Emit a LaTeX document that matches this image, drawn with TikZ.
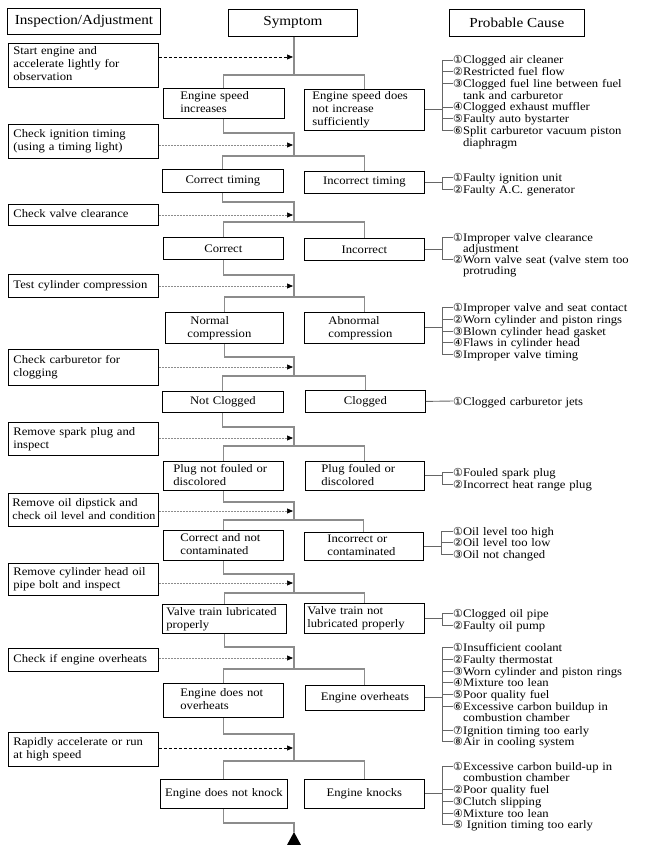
\documentclass[tikz,border=0pt]{standalone}
\usepackage{fontspec}
\setmainfont{Liberation Serif}[FakeStretch=1.1]
\newfontfamily\symf{DejaVu Sans}
\usetikzlibrary{arrows.meta}
\newcommand{\circnum}[1]{{\symf\fontsize{11}{11}\selectfont #1}}
\newcommand{\indtxt}[2]{\hspace*{#1}\begin{tabular}{@{}l@{}}#2\end{tabular}}
\tikzset{
  box/.style={draw=black, line width=0.8pt, inner xsep=0pt, inner ysep=1pt,
    anchor=north west, font=\fontsize{11.5}{13}\selectfont},
  lbox/.style={box, text width=150pt, align=left},
  sbox/.style={box, align=left},
  cbox/.style={box, align=center},
  hbox/.style={draw=black, line width=0.8pt, inner sep=0pt, anchor=north west,
    font=\fontsize{13.8}{15}\selectfont},
  flow/.style={draw=black!45, line width=1.1pt},
  brk/.style={draw=black!60, line width=0.9pt},
  darr/.style={draw=black, dash pattern=on 3pt off 2pt, line width=0.7pt,
    -{Triangle[length=6pt,width=5pt,color=black,fill=black]}},
  garr/.style={darr, draw=black!45, dash pattern=on 2pt off 1pt},
  cause/.style={anchor=base west, inner sep=0pt, text width=190pt, align=left,
    font=\fontsize{11.5}{11.75}\selectfont},
}
\begin{document}
\begin{tikzpicture}[x=1pt,y=-1pt]
\useasboundingbox (0,0) rectangle (646,845);

% headers
\node[hbox, minimum width=153pt, minimum height=26pt] (H1) at (7,8) {Inspection/Adjustment};
\node[hbox, minimum width=129pt, minimum height=27pt] (Sym) at (228,9) {Symptom};
\node[hbox, minimum width=135pt, minimum height=27pt] (H3) at (449,9) {Probable Cause};

% inspection boxes
\node[lbox, minimum height=44pt] (A1) at (8,43) {\indtxt{5pt}{Start engine and\\accelerate lightly for\\observation}};
\node[lbox, minimum height=34pt] (A2) at (8,124) {\indtxt{5pt}{Check ignition timing\\(using a timing light)}};
\node[lbox, minimum height=21pt] (A3) at (8,204) {\indtxt{5pt}{Check valve clearance}};
\node[lbox, minimum height=23pt] (A4) at (8,274) {\indtxt{5pt}{Test cylinder compression}};
\node[lbox, minimum height=36pt] (A5) at (8,349) {\indtxt{5pt}{Check carburetor for\\clogging}};
\node[lbox, minimum height=33pt] (A6) at (8,422) {\indtxt{5pt}{Remove spark plug and\\inspect}};
\node[lbox, minimum height=33pt] (A7) at (8,493) {\indtxt{4pt}{Remove oil dipstick and\\{\fontsize{11}{13}\selectfont check oil level and condition}}};
\node[lbox, minimum height=32pt] (A8) at (8,563) {\indtxt{5pt}{Remove cylinder head oil\\pipe bolt and inspect}};
\node[lbox, minimum height=23pt] (A9) at (8,648) {\indtxt{5pt}{Check if engine overheats}};
\node[lbox, minimum height=34pt] (A10) at (8,732) {\indtxt{5pt}{Rapidly accelerate or run\\at high speed}};

% symptom boxes
\node[sbox, text width=121pt, minimum height=30pt] (L1) at (163,88) {\indtxt{17pt}{Engine speed\\increases}};
\node[sbox, text width=120pt, minimum height=40pt] (R1) at (304,89) {\indtxt{8pt}{Engine speed does\\not increase\\sufficiently}};
\node[cbox, text width=121pt, minimum height=23pt] (L2) at (162,169) {Correct timing};
\node[cbox, text width=120pt, minimum height=22pt] (R2) at (304,171) {Incorrect timing};
\node[cbox, text width=120pt, minimum height=22pt] (L3) at (163,237) {Correct};
\node[cbox, text width=120pt, minimum height=22pt] (R3) at (304,238) {Incorrect};
\node[sbox, text width=118pt, minimum height=31pt] (L4) at (165,312) {\indtxt{22pt}{\hspace*{3pt}Normal\\compression}};
\node[sbox, text width=120pt, minimum height=31pt] (R4) at (304,312) {\indtxt{24pt}{Abnormal\\compression}};
\node[cbox, text width=121pt, minimum height=21pt] (L5) at (162,391) {Not Clogged};
\node[cbox, text width=120pt, minimum height=22pt] (R5) at (305,390) {Clogged};
\node[sbox, text width=120pt, minimum height=29pt] (L6) at (163,461) {\indtxt{10pt}{Plug not fouled or\\discolored}};
\node[sbox, text width=119pt, minimum height=29pt] (R6) at (305,461) {\indtxt{16pt}{Plug fouled or\\discolored}};
\node[sbox, text width=120pt, minimum height=30pt] (L7) at (163,530) {\indtxt{17pt}{Correct and not\\contaminated}};
\node[sbox, text width=119pt, minimum height=28pt] (R7) at (304,532) {\indtxt{23pt}{Incorrect or\\contaminated}};
\node[sbox, text width=124pt, minimum height=29pt] (L8) at (162,604) {\indtxt{4pt}{Valve train lubricated\\properly}};
\node[sbox, text width=120pt, minimum height=30pt] (R8) at (304,603) {\indtxt{3pt}{Valve train not\\lubricated properly}};
\node[sbox, text width=120pt, minimum height=34pt] (L9) at (163,683) {\indtxt{17pt}{Engine does not\\overheats}};
\node[cbox, text width=119pt, minimum height=25pt] (R9) at (305,685) {Engine overheats};
\node[cbox, text width=127pt, minimum height=29pt] (L10) at (160,779) {Engine does not knock};
\node[cbox, text width=120pt, minimum height=29pt] (R10) at (304,779) {Engine knocks};

% split / join / arrow coordinates
\foreach \k/\s/\j/\a in {1/75/133/57, 2/156/202/145, 3/222/275/215, 4/297/357/286,
  5/376/427/367, 6/446/502/438, 7/520/574/511, 8/593/647/583, 9/669/734/658, 10/761/823/748} {
  \coordinate (s\k) at (294,\s);
  \coordinate (j\k) at (294,\j);
  \coordinate (a\k) at (293,\a);
}
\coordinate (tri) at (294,832);

% flow lines
\draw[flow] (Sym.south -| s1) -- (s1);
\foreach \k in {1,...,10} \draw[flow] (L\k.north) |- (s\k) -| (R\k.north);
\foreach \k [evaluate=\k as \n using int(\k+1)] in {1,...,9} \draw[flow] (L\k.south) |- (j\k) -- (s\n);
\draw[flow] (L10.south) |- (j10) -- (tri);
\fill[black] (tri) -- (301,845) -- (287,845) -- cycle;

% dashed arrows
\draw[darr] (A1.east |- a1) -- (a1);
\foreach \k in {2,...,9} \draw[garr] (A\k.east |- a\k) -- (a\k);
\draw[darr] (A10.east |- a10) -- (a10);

% causes
\node[cause] (c1a) at (453,64) {\circnum{①}Clogged air cleaner};
\node[cause] (c1b) at (453,75.75) {\circnum{②}Restricted fuel flow};
\node[cause] (c1c) at (453,87.5) {\circnum{③}Clogged fuel line between fuel\\\hphantom{\circnum{③}}tank and carburetor};
\node[cause] (c1d) at (453,111) {\circnum{④}Clogged exhaust muffler};
\node[cause] (c1e) at (453,122.75) {\circnum{⑤}Faulty auto bystarter};
\node[cause] (c1f) at (453,134.5) {\circnum{⑥}Split carburetor vacuum piston\\\hphantom{\circnum{⑥}}diaphragm};

\node[cause] (c2a) at (453,181.5) {\circnum{①}Faulty ignition unit};
\node[cause] (c2b) at (453,193.5) {\circnum{②}Faulty A.C. generator};

\node[cause] (c3a) at (453,241) {\circnum{①}Improper valve clearance\\\hphantom{\circnum{①}}adjustment};
\node[cause] (c3b) at (453,263) {\circnum{②}Worn valve seat (valve stem too\\\hphantom{\circnum{②}}protruding};

\node[cause] (c4a) at (453,311) {\circnum{①}Improper valve and seat contact};
\node[cause] (c4b) at (453,323) {\circnum{②}Worn cylinder and piston rings};
\node[cause] (c4c) at (453,335) {\circnum{③}Blown cylinder head gasket};
\node[cause] (c4d) at (453,346.5) {\circnum{④}Flaws in cylinder head};
\node[cause] (c4e) at (453,358) {\circnum{⑤}Improper valve timing};

\node[cause] (c5a) at (453,405) {\circnum{①}Clogged carburetor jets};

\node[cause] (c6a) at (453,476) {\circnum{①}Fouled spark plug};
\node[cause] (c6b) at (453,488) {\circnum{②}Incorrect heat range plug};

\node[cause] (c7a) at (453,535) {\circnum{①}Oil level too high};
\node[cause] (c7b) at (453,546.5) {\circnum{②}Oil level too low};
\node[cause] (c7c) at (453,558) {\circnum{③}Oil not changed};

\node[cause] (c8a) at (453,617) {\circnum{①}Clogged oil pipe};
\node[cause] (c8b) at (453,629) {\circnum{②}Faulty oil pump};

\node[cause] (c9a) at (453,651) {\circnum{①}Insufficient coolant};
\node[cause] (c9b) at (453,663) {\circnum{②}Faulty thermostat};
\node[cause] (c9c) at (453,675) {\circnum{③}Worn cylinder and piston rings};
\node[cause] (c9d) at (453,686.5) {\circnum{④}Mixture too lean};
\node[cause] (c9e) at (453,698) {\circnum{⑤}Poor quality fuel};
\node[cause] (c9f) at (453,710) {\circnum{⑥}Excessive carbon buildup in\\\hphantom{\circnum{⑥}}combustion chamber};
\node[cause] (c9g) at (453,734) {\circnum{⑦}Ignition timing too early};
\node[cause] (c9h) at (453,745.5) {\circnum{⑧}Air in cooling system};

\node[cause] (c10a) at (453,770) {\circnum{①}Excessive carbon build-up in\\\hphantom{\circnum{①}}combustion chamber};
\node[cause] (c10b) at (453,793) {\circnum{②}Poor quality fuel};
\node[cause] (c10c) at (453,805) {\circnum{③}Clutch slipping};
\node[cause] (c10d) at (453,817) {\circnum{④}Mixture too lean};
\node[cause] (c10e) at (453,828) {\circnum{⑤} Ignition timing too early};

% brackets
\foreach \k in {1,2,3,4,6,7,8,9,10} {
  \coordinate (b\k) at ([xshift=18pt]R\k.east);
  \draw[brk] (R\k.east) -- (b\k);
}
\foreach \c in {c1a,c1b,c1c,c1d,c1e,c1f} \draw[brk] ([yshift=4pt]\c.base west) -| (b1);
\foreach \c in {c2a,c2b} \draw[brk] ([yshift=4pt]\c.base west) -| (b2);
\foreach \c in {c3a,c3b} \draw[brk] ([yshift=4pt]\c.base west) -| (b3);
\foreach \c in {c4a,c4b,c4c,c4d,c4e} \draw[brk] ([yshift=4pt]\c.base west) -| (b4);
\draw[brk] (R5.east) -- ([yshift=4pt]c5a.base west);
\foreach \c in {c6a,c6b} \draw[brk] ([yshift=4pt]\c.base west) -| (b6);
\foreach \c in {c7a,c7b,c7c} \draw[brk] ([yshift=4pt]\c.base west) -| (b7);
\foreach \c in {c8a,c8b} \draw[brk] ([yshift=4pt]\c.base west) -| (b8);
\foreach \c in {c9a,c9b,c9c,c9d,c9e,c9f,c9g,c9h} \draw[brk] ([yshift=4pt]\c.base west) -| (b9);
\foreach \c in {c10a,c10b,c10c,c10d,c10e} \draw[brk] ([yshift=4pt]\c.base west) -| (b10);
\end{tikzpicture}
\end{document}
